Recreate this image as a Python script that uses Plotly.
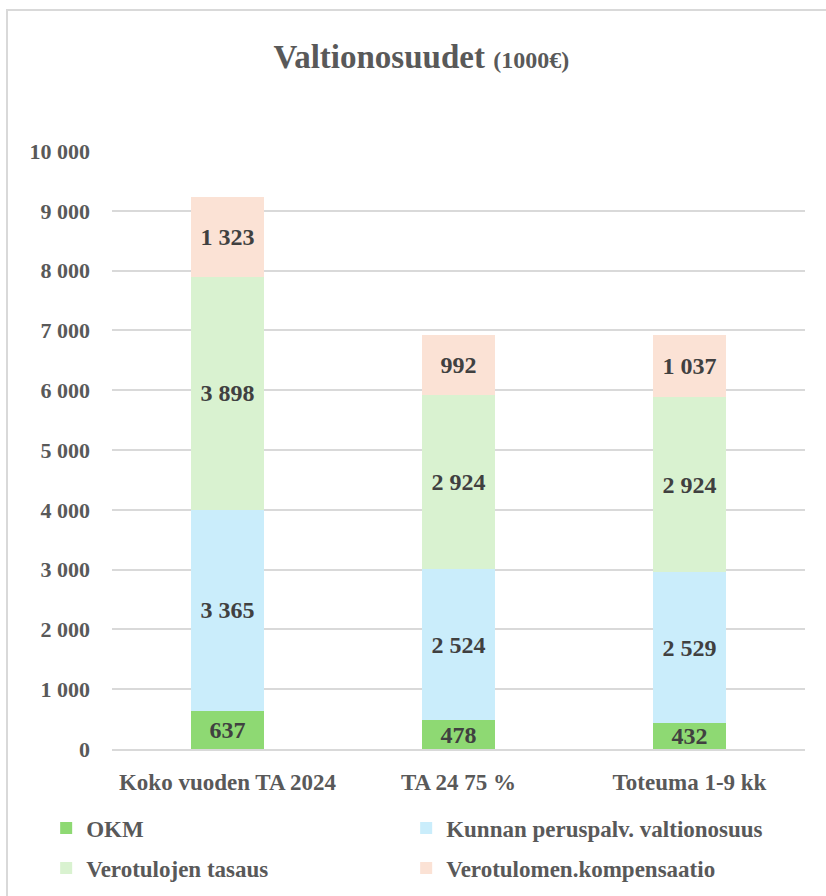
import plotly.graph_objects as go

categories = ["Koko vuoden TA 2024", "TA 24 75 %", "Toteuma 1-9 kk"]
okm = [637, 478, 432]
kunnan = [3365, 2524, 2529]
tasaus = [3898, 2924, 2924]
kompensaatio = [1323, 992, 1037]
series_names = ["OKM", "Kunnan peruspalv. valtionosuus", "Verotulojen tasaus", "Verotulomen.kompensaatio"]
colors = ["#8ED973", "#CAEDFB", "#D9F2D0", "#FBE2D5"]
legends = ["legend", "legend", "legend2", "legend2"]
ytick_vals = list(range(0, 10001, 1000))

FONT = "Liberation Serif"
W, H = 826, 910
T, B = 151, H - 749
PH = 749 - T

fig = go.Figure()
for name, vals, col, lg in zip(series_names, [okm, kunnan, tasaus, kompensaatio], colors, legends):
    fig.add_trace(go.Bar(
        x=categories, y=vals, name=name, marker=dict(color=col, line=dict(width=0)),
        text=vals, texttemplate="%{y:,}", textposition="inside", insidetextanchor="middle",
        textangle=0, textfont=dict(family=FONT, size=24, color="#404040", weight="bold"),
        legend=lg, width=0.316,
    ))

legend_common = dict(
    orientation="h", x=-0.095, xanchor="left", yanchor="middle",
    entrywidth=315, entrywidthmode="pixels", itemwidth=30,
    font=dict(family=FONT, size=23, color="#595959", weight="bold"),
    traceorder="normal", bgcolor="rgba(0,0,0,0)",
)

fig.update_layout(
    barmode="stack",
    separators=". ",
    width=W, height=H,
    margin=dict(l=112, r=21, t=T, b=B),
    paper_bgcolor="white", plot_bgcolor="white",
    font=dict(family=FONT, color="#595959", weight="bold"),
    uniformtext=dict(minsize=24, mode="show"),
    title=dict(
        text="Valtionosuudet <span style='font-size:24px'>(1000€)</span>",
        font=dict(family=FONT, size=33, color="#595959", weight="bold"),
        x=0.51, xanchor="center", y=1 - 56 / H, yanchor="middle", xref="container", yref="container",
    ),
    xaxis=dict(
        showgrid=False, showline=True, linecolor="#d9d9d9", linewidth=2,
        tickfont=dict(family=FONT, size=23, color="#595959", weight="bold"),
        ticks="", ticklabelstandoff=11,
    ),
    yaxis=dict(
        range=[0, 10000], tickvals=ytick_vals, tickformat=",",
        showgrid=True, gridcolor="#d9d9d9", gridwidth=1.5, zeroline=False,
        tickfont=dict(family=FONT, size=22, color="#595959", weight="bold"),
        ticks="", ticklabelstandoff=21,
    ),
    legend=dict(legend_common, y=-(828 - 749) / PH),
    legend2=dict(legend_common, y=-(868 - 749) / PH),
    shapes=[dict(
        type="rect", xref="paper", yref="paper", x0=-0.1515, x1=1.2, y0=-0.5, y1=1 + (T - 10) / PH,
        line=dict(color="#d9d9d9", width=2), fillcolor="rgba(0,0,0,0)", layer="below",
    )],
)

fig.write_html(
    "out.html", config={"displayModeBar": False},
    post_script="document.body.style.margin='0';document.body.style.overflow='hidden';"
                "document.documentElement.style.overflow='hidden';",
)
